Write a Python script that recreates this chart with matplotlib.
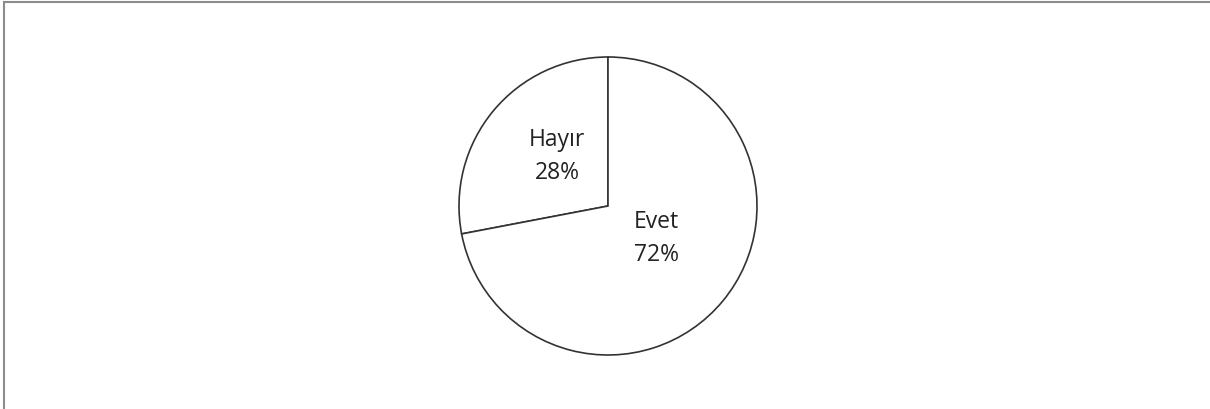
import numpy as np
import matplotlib.pyplot as plt
from matplotlib.patches import Rectangle

labels = ['Hayır', 'Evet']
values = [28, 72]

fig = plt.figure(figsize=(12.1, 4.1), dpi=100)
ax = fig.add_axes([0, 0, 1, 1])
ax.set_xlim(0, 1210)
ax.set_ylim(0, 410)
ax.set_aspect('equal')
ax.axis('off')

cx, cy, r = 608, 203, 149
wedges, _ = ax.pie(values, startangle=90, counterclock=True, center=(cx, cy), radius=r,
                   colors=['white', 'white'], labels=None,
                   wedgeprops=dict(edgecolor='#333333', linewidth=1.2))
ax.set_xlim(0, 1210)
ax.set_ylim(0, 410)

# label placement, fraction of radius per wedge + small angle nudge
dist = [0.48, 0.39]
offs = [-5, 6.5]
for w, lab, v, d, o in zip(wedges, labels, values, dist, offs):
    mid = np.deg2rad((w.theta1 + w.theta2) / 2 + o)
    x = cx + d * r * np.cos(mid)
    y = cy + d * r * np.sin(mid)
    ax.text(x, y, f'{lab}\n{v}%', ha='center', va='center', fontsize=16.5,
            family='Open Sans', color='#222222', linespacing=1.5)

fig.add_artist(Rectangle((4 / 1210, -0.1), 1.2, 0.1 + 407 / 410,
                         transform=fig.transFigure, fill=False,
                         edgecolor='#8c8c8c', linewidth=1.5))

fig.savefig('out.png', dpi=100)
